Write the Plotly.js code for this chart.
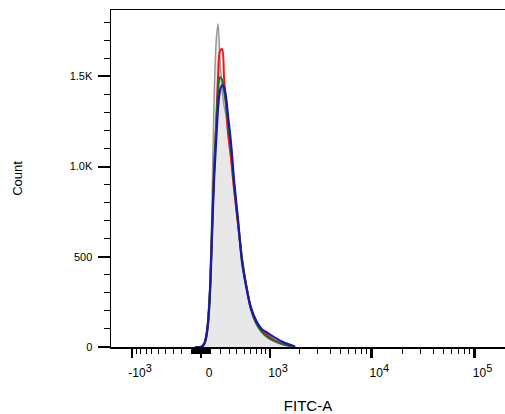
<!DOCTYPE html>
<html><head><meta charset="utf-8">
<script src="https://cdn.plot.ly/plotly-3.0.1.min.js"></script>
<style>html,body{margin:0;padding:0;background:#fff}#chart{width:505px;height:414px}</style>
</head><body><div id="chart"></div>
<script>
// FITC-A channel values (data units) shared by all histograms
const fitcValues = [-60, 0, 30, 50, 70, 90, 110, 130, 155, 175, 195, 220, 240, 265, 285, 325, 360, 415, 470, 530, 610, 695, 810, 940, 1100, 1360, 1800];
// Counts per histogram
const grayCounts  = [0, 5, 25, 70, 170, 380, 780, 1330, 1700, 1790, 1600, 1420, 1340, 1280, 1180, 1030, 870, 660, 470, 330, 200, 130, 80, 50, 30, 12, 0];
const redCounts   = [0, 0, 15, 50, 130, 300, 620, 950, 1250, 1500, 1640, 1650, 1500, 1330, 1200, 1040, 880, 680, 490, 350, 220, 150, 95, 65, 40, 18, 0];
const greenCounts = [0, 0, 15, 55, 140, 320, 640, 960, 1230, 1420, 1495, 1480, 1420, 1340, 1250, 1090, 910, 690, 490, 350, 210, 135, 85, 55, 35, 15, 0];
const blueCounts  = [0, 0, 15, 50, 130, 300, 600, 900, 1150, 1330, 1420, 1450, 1440, 1380, 1290, 1120, 930, 700, 470, 340, 215, 150, 100, 78, 55, 28, 3];

const xTickValues = [-1000, 0, 1000, 10000, 100000];
const xTickLabels = ['-10<sup><span style="font-size:11px">3</span></sup>', '0',
  '10<sup><span style="font-size:11px">3</span></sup>', '10<sup><span style="font-size:11px">4</span></sup>',
  '10<sup><span style="font-size:11px">5</span></sup>'];
const yTickValues = [0, 500, 1000, 1500];
const yTickLabels = ['0', '500', '1.0K', '1.5K'];
const xRangeValues = [-1645, 197000];
const yRangeValues = [0, 1867];

// biexponential-like (arcsinh) display transform
const W = 450;
const biex = v => Math.asinh(v / W);

const xMinor = [];
[10, 100, 1000, 10000, 100000].forEach(d => {
  for (let k = 1; k <= 9; k++) {
    const v = k * d;
    if (!xTickValues.includes(v)) xMinor.push(v);
    if (!xTickValues.includes(-v)) xMinor.push(-v);
  }
});
const yMinor = [];
for (let v = 100; v <= 1800; v += 100) if (!yTickValues.includes(v)) yMinor.push(v);

const xs = fitcValues.map(biex);
const mk = (y, color, width, extra) => Object.assign({
  x: xs, y: y, type: 'scatter', mode: 'lines',
  line: {color: color, width: width, shape: 'spline', smoothing: 0.8},
  hoverinfo: 'skip'
}, extra || {});

const data = [
  mk(grayCounts, '#9a9a9a', 1.5, {fill: 'tozeroy', fillcolor: '#e8e8e8'}),
  mk(redCounts, '#ff1010', 2),
  mk(greenCounts, '#1f6f1f', 2),
  mk(blueCounts, '#1a1aa8', 2.2)
];

const font = {family: 'Liberation Sans, Arial, sans-serif', color: '#000'};
const layout = {
  width: 505, height: 414,
  margin: {l: 111, r: 0, t: 10, b: 67},
  paper_bgcolor: '#fff', plot_bgcolor: '#fff',
  showlegend: false, hovermode: false,
  font: Object.assign({size: 11}, font),
  xaxis: {
    type: 'linear',
    range: xRangeValues.map(biex),
    showgrid: false, zeroline: false,
    showline: true, linecolor: '#000', linewidth: 1.5, mirror: true,
    ticks: 'outside', ticklen: 9, tickwidth: 2.5, tickcolor: '#000',
    tickmode: 'array', tickvals: xTickValues.map(biex), ticktext: xTickLabels,
    ticklabelshift: 8, ticklabelstandoff: 5,
    tickfont: Object.assign({size: 12}, font),
    minor: {tickmode: 'array', tickvals: xMinor.map(biex), ticks: 'outside', ticklen: 5, tickwidth: 1, tickcolor: '#000', showgrid: false},
    title: {text: 'FITC-A', font: Object.assign({size: 15}, font), standoff: 21}
  },
  yaxis: {
    range: yRangeValues,
    showgrid: false, zeroline: false,
    showline: true, linecolor: '#000', linewidth: 1.5, mirror: false,
    ticks: 'outside', ticklen: 12, tickwidth: 2, tickcolor: '#000',
    tickmode: 'array', tickvals: yTickValues, ticktext: yTickLabels,
    ticklabelstandoff: 3,
    tickfont: Object.assign({size: 11}, font),
    minor: {tickmode: 'array', tickvals: yMinor, ticks: 'outside', ticklen: 6, tickwidth: 1, tickcolor: '#000', showgrid: false},
    title: {text: 'Count', font: Object.assign({size: 13}, font), standoff: 44}
  }
};

Plotly.newPlot('chart', data, layout, {staticPlot: true, displayModeBar: false});
</script>
</body></html>
